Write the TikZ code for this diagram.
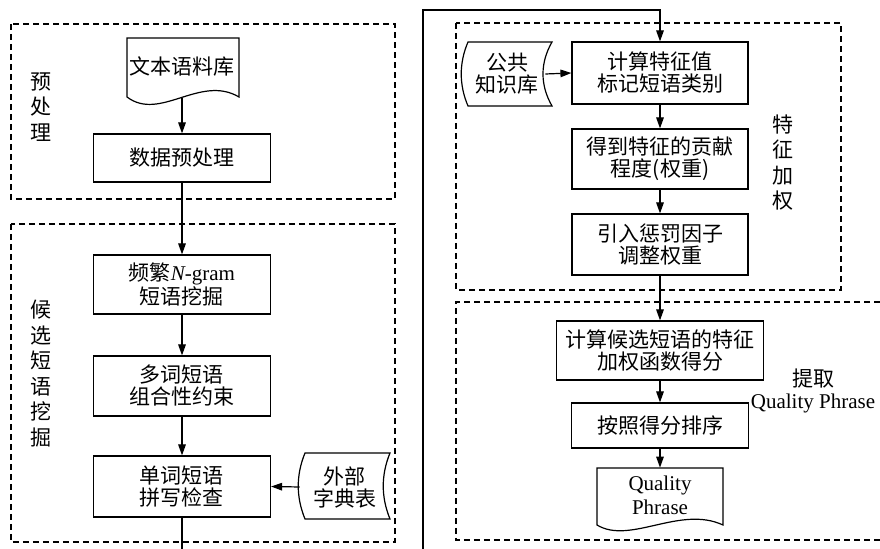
\documentclass[tikz,border=0pt]{standalone}
\usepackage{fontspec}
\setmainfont{Liberation Serif}
\newfontfamily\cjk{Noto Sans CJK SC}
\usetikzlibrary{arrows.meta}
\newcommand\zhfont{\cjk\fontsize{10.5}{11}\selectfont}
\newcommand\zhvfont{\cjk\fontsize{10.5}{12.75}\selectfont}
\begin{document}
\begin{tikzpicture}[x=0.5pt,y=-0.5pt,
  every node/.style={inner sep=0pt, align=center},
  box/.style={draw, line width=0.6pt, minimum width=88.5pt, font=\zhfont},
  txt/.style={font=\zhfont},
  vlab/.style={font=\zhvfont},
  dbox/.style={draw, line width=0.6pt, dash pattern=on 3.2pt off 1.8pt},
  shp/.style={draw, line width=0.6pt, line join=miter},
  arr/.style={line width=0.6pt, -{Triangle[length=5.5pt,width=3.8pt]}},
  conn/.style={line width=0.6pt}]
\useasboundingbox (0,0) rectangle (880,549);

% dashed group frames
\draw[dbox] (11,24) rectangle (395,199);
\draw[dbox] (11,224) rectangle (395,542);
\draw[dbox] (456,23) rectangle (841,290);
\draw[dbox] (890,302) -- (456,302) -- (456,540) -- (890,540);

% group labels
\node[vlab] (l1) at (41,107) {预\\处\\理};
\node[vlab] (l2) at (41,373.5) {候\\选\\短\\语\\挖\\掘};
\node[vlab] (l3) at (783,162.5) {特\\征\\加\\权};
\node[txt] (l4) at (813,390.5) {提取\\{\rmfamily Quality Phrase}};

% left column
\draw[shp] (127,38) -- (239,38) -- (239,97) .. controls (200,74) and (160,122) .. (127,97) -- cycle;
\node[txt, minimum width=56pt, minimum height=31pt] (doc1) at (182,67) {文本语料库};
\node[box, minimum height=24pt] (b1) at (182,158) {数据预处理};
\node[box, minimum height=29.5pt] (b2) at (182,284.5) {频繁{\rmfamily\itshape N}{\rmfamily -gram}\\短语挖掘};
\node[box, minimum height=30pt] (b3) at (182,386) {多词短语\\组合性约束};
\node[box, minimum height=30.5pt] (b4) at (182,486.5) {单词短语\\拼写检查};
\draw[shp] (305,453) -- (390,453) .. controls (381,475) and (381,497) .. (390,519) -- (305,519) .. controls (296,497) and (296,475) .. (305,453) -- cycle;
\node[txt, minimum width=45pt, minimum height=33pt] (s1) at (345,487) {外部\\字典表};

% right column
\draw[shp] (468,42) -- (552,42) .. controls (540,63) and (540,85) .. (552,106) -- (468,106) .. controls (459,85) and (459,63) .. (468,42) -- cycle;
\node[txt, minimum width=38pt, minimum height=32pt] (s2) at (507,74) {公共\\知识库};
\node[box, minimum width=88pt, minimum height=31pt] (b5) at (660,73) {计算特征值\\标记短语类别};
\node[box, minimum width=88pt, minimum height=30pt] (b6) at (660,159) {得到特征的贡献\\程度(权重)};
\node[box, minimum width=88pt, minimum height=30.5pt] (b7) at (660,244.5) {引入惩罚因子\\调整权重};
\node[box, minimum width=103.5pt, minimum height=29.5pt] (b8) at (660,350.5) {计算候选短语的特征\\加权函数得分};
\node[box, minimum width=88.5pt, minimum height=22.5pt] (b9) at (660,425.5) {按照得分排序};
\draw[shp] (597,468) -- (723,468) -- (723,525) .. controls (680,505) and (630,545) .. (597,525) -- cycle;
\node[minimum width=63pt, minimum height=27pt, font=\fontsize{10.5}{12}\selectfont] (doc2) at (660,495) {Quality\\Phrase};

% free ends of the page-crossing connector
\coordinate (endL) at (182,549);
\coordinate (startR) at (423,549);
\coordinate (cornerL) at (423,10);
\coordinate (cornerR) at (660,10);

% connectors
\draw[arr] (doc1.south) -- (b1.north);
\draw[arr] (b1) -- (b2);
\draw[arr] (b2) -- (b3);
\draw[arr] (b3) -- (b4);
\draw[arr] (s1.west) -- (b4.east);
\draw[conn] (b4.south) -- (endL);
\draw[arr, line join=miter] (startR) -- (cornerL) -- (cornerR) -- (b5.north);
\draw[arr] (s2.east) -- (b5.west);
\draw[arr] (b5) -- (b6);
\draw[arr] (b6) -- (b7);
\draw[arr] (b7) -- (b8);
\draw[arr] (b8) -- (b9);
\draw[arr] (b9) -- (doc2.north);
\end{tikzpicture}
\end{document}
